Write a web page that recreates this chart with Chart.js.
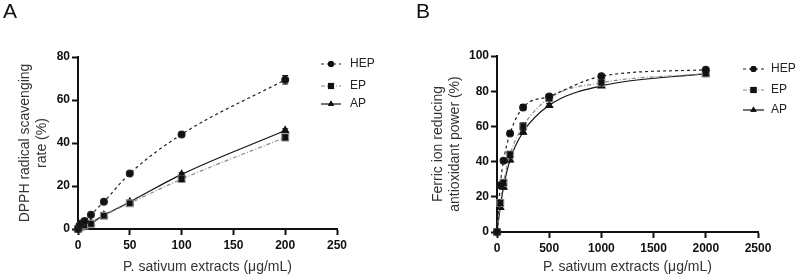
<!DOCTYPE html>
<html>
<head>
<meta charset="utf-8">
<script src="https://cdn.jsdelivr.net/npm/chart.js@4.4.1/dist/chart.umd.min.js"></script>
<style>
  body { margin: 0; background: #fff; }
  #wrap { position: relative; width: 796px; height: 278px; overflow: hidden; font-family: "Liberation Sans", Arial, sans-serif; }
  canvas { position: absolute; top: 0; }
  .tag { position: absolute; top: -1px; font-size: 21px; color: #111; }
</style>
</head>
<body>
<div id="wrap">
  <canvas id="chartA" width="400" height="278" style="left:0"></canvas>
  <canvas id="chartB" width="396" height="278" style="left:400px"></canvas>
  <div class="tag" style="left:3px">A</div>
  <div class="tag" style="left:416px">B</div>
</div>
<script>
// panel A - DPPH
const concA = [0, 1.5625, 3.125, 6.25, 12.5, 25, 50, 100, 200];
const hepA = [0, 1.6, 2.6, 3.7, 6.6, 12.7, 25.8, 44.0, 69.4];
const epA = [0, 0.8, 1.2, 1.6, 2.4, 6.2, 12.0, 23.2, 42.6];
const apA = [0, 0.9, 1.4, 1.9, 2.9, 6.4, 12.6, 25.4, 45.8];
const hepErrA = [0, 0, 0, 0, 0, 0, 0, 0.6, 2.0];
const epErrA = [0, 0, 0, 0, 0, 0, 0, 1.0, 1.2];
const apErrA = [0, 0, 0, 0, 0, 0, 0, 0.8, 0.8];

// panel B - FRAP
const concB = [0, 31.25, 62.5, 125, 250, 500, 1000, 2000];
const hepB = [0, 26.5, 40.5, 56.0, 70.8, 77.0, 88.5, 92.2];
const epB = [0, 16.5, 28.0, 44.0, 60.0, 76.0, 84.8, 90.0];
const apB = [0, 14.0, 25.5, 41.0, 56.8, 72.0, 83.0, 90.0];
const hepErrB = [0, 1.0, 1.0, 1.2, 1.5, 1.0, 0.6, 0.5];
const epErrB = [0, 1.5, 1.5, 1.5, 2.0, 1.5, 1.0, 0.6];
const apErrB = [0, 1.2, 1.2, 1.2, 1.2, 1.0, 0.8, 0.6];

const names = ["HEP", "EP", "AP"];
const xTitle = "P. sativum extracts (\u03bcg/mL)";

function series(xs, ys) {
  return xs.map((x, i) => ({ x: x, y: ys[i] }));
}

function makeDatasets(xs, h, e, a, he, ee, ae) {
  const base = {
    showLine: true,
    cubicInterpolationMode: "monotone",
    borderWidth: 1.2,
    clip: false,
  };
  return [
    Object.assign({}, base, {
      label: names[0], data: series(xs, h), errors: he,
      borderColor: "#222", backgroundColor: "#111", borderDash: [3, 3],
      pointStyle: "circle", pointRadius: 3.4,
    }),
    Object.assign({}, base, {
      label: names[1], data: series(xs, e), errors: ee,
      borderColor: "#8a8a8a", backgroundColor: "#111", borderDash: [4, 2, 1, 2],
      pointStyle: "rect", pointRadius: 4.8,
    }),
    Object.assign({}, base, {
      label: names[2], data: series(xs, a), errors: ae,
      borderColor: "#111", backgroundColor: "#111", borderDash: [],
      pointStyle: "triangle", pointRadius: 4,
    }),
  ];
}

// error bars
const errorBars = {
  id: "errorBars",
  afterDatasetsDraw(chart) {
    const ctx = chart.ctx;
    const ys = chart.scales.y;
    chart.data.datasets.forEach((ds, di) => {
      const meta = chart.getDatasetMeta(di);
      ctx.save();
      ctx.strokeStyle = "#111";
      ctx.lineWidth = 1;
      meta.data.forEach((pt, i) => {
        const err = ds.errors[i];
        if (!err) return;
        const v = ds.data[i].y;
        const y1 = ys.getPixelForValue(v + err);
        const y2 = ys.getPixelForValue(v - err);
        ctx.beginPath();
        ctx.moveTo(pt.x, y1); ctx.lineTo(pt.x, y2);
        ctx.moveTo(pt.x - 3, y1); ctx.lineTo(pt.x + 3, y1);
        ctx.moveTo(pt.x - 3, y2); ctx.lineTo(pt.x + 3, y2);
        ctx.stroke();
      });
      ctx.restore();
    });
  },
};

// legend: dashed segment + marker + label
const lineLegend = {
  id: "lineLegend",
  afterDraw(chart, args, opts) {
    const ctx = chart.ctx;
    chart.data.datasets.forEach((ds, i) => {
      const y = opts.ys[i];
      ctx.save();
      ctx.strokeStyle = ds.borderColor;
      ctx.lineWidth = 1.2;
      ctx.setLineDash(ds.borderDash);
      ctx.beginPath();
      ctx.moveTo(opts.x1, y);
      ctx.lineTo(opts.x2, y);
      ctx.stroke();
      ctx.setLineDash([]);
      ctx.fillStyle = "#111";
      Chart.helpers.drawPoint(ctx, { pointStyle: ds.pointStyle, radius: ds.pointRadius * 0.9, rotation: 0, borderWidth: 0 },
        (opts.x1 + opts.x2) / 2, y);
      ctx.fill();
      ctx.fillStyle = "#222";
      ctx.font = "12px 'Liberation Sans', Arial, sans-serif";
      ctx.textBaseline = "middle";
      ctx.fillText(ds.label, opts.tx, y);
      ctx.restore();
    });
  },
};

function makeOptions(cfg) {
  const tickFont = { family: "'Liberation Sans', Arial, sans-serif", size: 12, weight: "bold" };
  const titleFont = { family: "'Liberation Sans', Arial, sans-serif", size: 14 };
  return {
    responsive: false,
    animation: false,
    devicePixelRatio: 1,
    layout: { padding: { left: 0, top: cfg.top, right: cfg.right, bottom: 0 } },
    plugins: {
      legend: { display: false },
      tooltip: { enabled: false },
      lineLegend: cfg.legend,
    },
    scales: {
      x: {
        type: "linear", min: 0, max: cfg.xmax,
        ticks: { stepSize: cfg.xstep, font: tickFont, color: "#111", padding: 3, maxRotation: 0,
          callback: (v) => String(v) },
        grid: { drawOnChartArea: false, tickLength: 6, tickWidth: 2, tickColor: "#111" },
        border: { color: "#111", width: 2 },
        title: { display: true, text: xTitle, font: titleFont, color: "#333", padding: { top: 0, bottom: 2 } },
        afterFit: (s) => { s.height = cfg.xh; },
      },
      y: {
        type: "linear", min: 0, max: cfg.ymax,
        ticks: { stepSize: cfg.ystep, font: tickFont, color: "#111", padding: 2,
          callback: (v) => String(v) },
        grid: { drawOnChartArea: false, tickLength: 6, tickWidth: 2, tickColor: "#111" },
        border: { color: "#111", width: 2 },
        title: { display: true, text: cfg.yTitle, font: titleFont, color: "#333", padding: { top: cfg.ytp, bottom: 0 } },
        afterFit: (s) => { s.width = cfg.yw; },
      },
    },
  };
}

new Chart(document.getElementById("chartA"), {
  type: "scatter",
  data: { datasets: makeDatasets(concA, hepA, epA, apA, hepErrA, epErrA, apErrA) },
  options: makeOptions({
    top: 57, right: 63, xh: 49, yw: 78, ytp: 17,
    xmax: 250, xstep: 50, ymax: 80, ystep: 20,
    yTitle: ["DPPH radical scavenging", "rate (%)"],
    legend: { x1: 321, x2: 341, tx: 350, ys: [64, 86, 104] },
  }),
  plugins: [errorBars, lineLegend],
});

new Chart(document.getElementById("chartB"), {
  type: "scatter",
  data: { datasets: makeDatasets(concB, hepB, epB, apB, hepErrB, epErrB, apErrB) },
  options: makeOptions({
    top: 56, right: 38, xh: 46, yw: 97, ytp: 30,
    xmax: 2500, xstep: 500, ymax: 100, ystep: 20,
    yTitle: ["Ferric ion reducing", "antioxidant power (%)"],
    legend: { x1: 343, x2: 364, tx: 371, ys: [69, 90, 110] },
  }),
  plugins: [errorBars, lineLegend],
});
</script>
</body>
</html>
